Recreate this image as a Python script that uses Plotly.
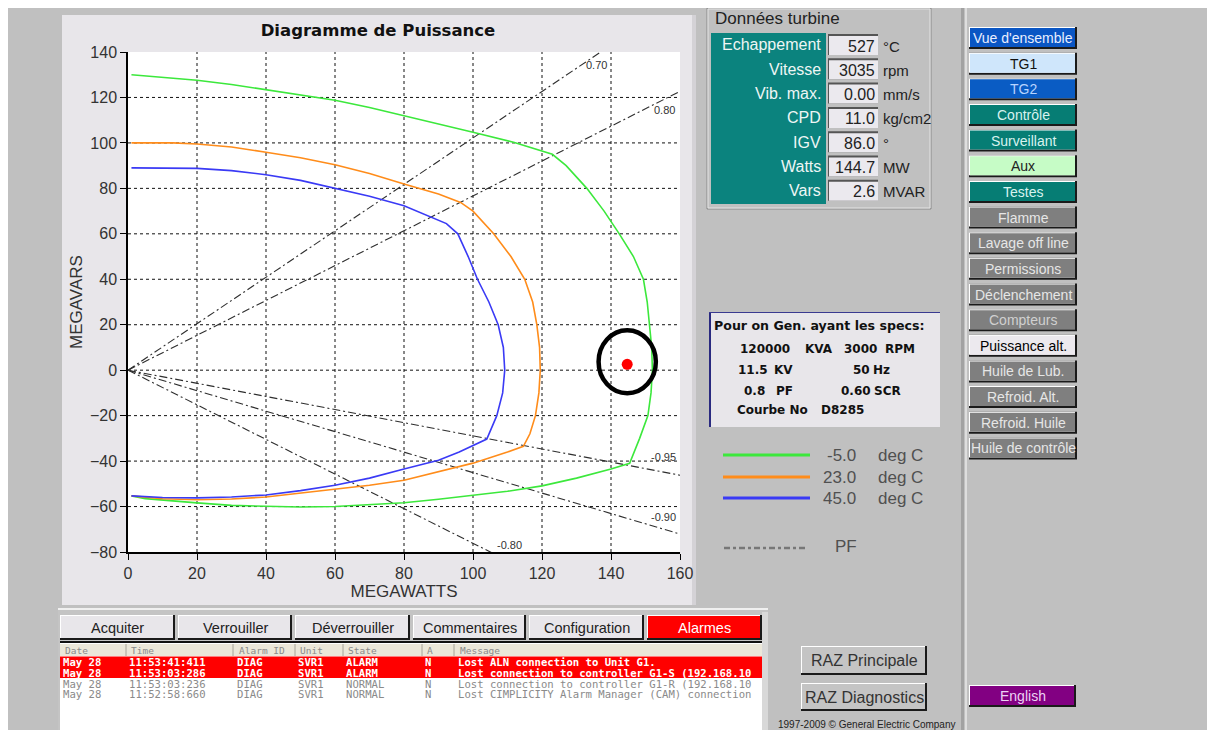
import plotly.graph_objects as go

# ---------------- DATA ----------------
# capability curves (MW, MVAR)
temps = ["-5.0", "23.0", "45.0"]
curve_colors = ["#3ce83c", "#ff8c1a", "#3a3af5"]

green_mw = [1, 10, 20, 30, 40, 50, 60, 70, 80, 90, 100, 112, 123, 127, 133, 138, 142.4, 146.5, 149.4, 150.5,
            151.2, 151.8, 152, 151.6, 150.7, 148.3, 145.4, 140, 130, 120, 110, 100, 90, 80, 70, 60, 50, 40, 30, 20, 10, 5, 1]
green_mvar = [130, 129, 127.6, 125.7, 123.5, 121.3, 118.8, 115.6, 112, 108.5, 104.7, 100.2, 95, 90, 80, 70, 60, 50, 40, 30,
              20, 10, 0, -10, -20, -30, -41, -43.5, -47.5, -50.9, -53.3, -55.2, -56.8, -58.3, -59.3, -60, -60.2, -60, -59.5, -58.4, -57.3, -56.5, -55.3]

orange_mw = [1, 13, 20, 30, 40, 50, 60, 70, 80, 90, 96.4, 100, 106, 111, 115, 117.3, 118.5, 119.3, 119.5, 119.1, 118.1, 116.5,
             114.6, 110, 100, 90, 80, 70, 60, 50, 40, 30, 20, 10, 5, 1]
orange_mvar = [100, 100, 99.5, 98.2, 95.9, 93.5, 90.4, 86.5, 81.9, 77.5, 73.8, 70, 60, 50, 40, 30, 20, 10, 0, -10, -20, -28,
               -33.5, -36, -40.9, -44.6, -48.4, -50.6, -52.4, -54.3, -55.8, -56.7, -57, -56.6, -56, -55.3]

blue_mw = [1, 20, 30, 40, 50, 60, 70, 80, 87.7, 92.3, 95.6, 98.6, 101.3, 104.6, 107.3, 108.8, 109.2, 108.6, 106.9, 104,
           96, 90, 80, 70, 60, 50, 40, 30, 20, 10, 1]
blue_mvar = [89, 88.8, 87.8, 86, 83.5, 80, 76.5, 72.4, 67.6, 64.5, 60, 50, 40, 30, 20, 10, 0, -10, -20, -30.3,
             -36, -39.6, -43.5, -47.5, -50.6, -53, -54.9, -55.8, -56.2, -56, -55.3]

# power-factor lines: from the origin to the end point
pf_labels = ["0.70", "0.80", "-0.95", "-0.90", "-0.80"]
pf_end_mw = [137, 163, 161, 162, 107]
pf_end_mvar = [140, 125, -46.5, -73, -81.5]
pf_label_mw = [135.7, 155.6, 155.1, 155.1, 110.7]
pf_label_mvar = [134.2, 114.4, -38.3, -64.7, -77]

x_ticks = [0, 20, 40, 60, 80, 100, 120, 140, 160]
y_ticks = [140, 120, 100, 80, 60, 40, 20, 0, -20, -40, -60, -80]

# turbine data panel
turb_labels = ["Echappement", "Vitesse", "Vib. max.", "CPD", "IGV", "Watts", "Vars"]
turb_values = ["527", "3035", "0.00", "11.0", "86.0", "144.7", "2.6"]
turb_units = ["°C", "rpm", "mm/s", "kg/cm2", "°", "MW", "MVAR"]

op_mw = float(turb_values[5])
op_mvar = float(turb_values[6])

# navigation buttons
nav_labels = ["Vue d'ensemble", "TG1", "TG2", "Contrôle", "Surveillant", "Aux", "Testes", "Flamme",
              "Lavage off line", "Permissions", "Déclenchement", "Compteurs", "Puissance alt.",
              "Huile de Lub.", "Refroid. Alt.", "Refroid. Huile", "Huile de contrôle"]
nav_fill = ["#0a56c4", "#cfe6fb", "#0a5cc4", "#067d74", "#067d74", "#c6fcc6", "#067d74", "#7f7f7f",
            "#7f7f7f", "#7f7f7f", "#7f7f7f", "#7f7f7f", "#ece9ee", "#7f7f7f", "#7f7f7f", "#7f7f7f", "#7f7f7f"]
nav_font = ["#e8eeff", "#111111", "#b8d4ff", "#d8f2ef", "#d8f2ef", "#222222", "#d8f2ef", "#e6e6e6",
            "#e6e6e6", "#e6e6e6", "#e6e6e6", "#d0d0d0", "#000000", "#e6e6e6", "#e6e6e6", "#e6e6e6", "#e6e6e6"]

tab_labels = ["Acquiter", "Verrouiller", "Déverrouiller", "Commentaires", "Configuration", "Alarmes"]

alarm_cols = ["Date", "Time", "Alarm ID", "Unit", "State", "A", "Message"]
alarm_rows = [
    ["May 28", "11:53:41:411", "DIAG", "SVR1", "ALARM", "N", "Lost ALN connection to Unit G1."],
    ["May 28", "11:53:03:286", "DIAG", "SVR1", "ALARM", "N", "Lost connection to controller G1-S (192.168.10"],
    ["May 28", "11:53:03:236", "DIAG", "SVR1", "NORMAL", "N", "Lost connection to controller G1-R (192.168.10"],
    ["May 28", "11:52:58:660", "DIAG", "SVR1", "NORMAL", "N", "Lost CIMPLICITY Alarm Manager (CAM) connection"],
]

spec_title = "Pour on Gen. ayant les specs:"
spec_lines = [["120000", "KVA", "3000", "RPM"], ["11.5", "KV", "50", "Hz"], ["0.8", "PF", "0.60", "SCR"], ["Courbe No", "D8285"]]

# ---------------- HELPERS ----------------
W, H = 1215, 730
OFF = 8  # page body margin: the figure starts 8px from the top-left of the window
PX0, PX1, PY0, PY1 = 128, 680, 52, 552


def px(x):
    return (x - OFF) / W


def py(y):
    return 1 - (y - OFF) / H


shapes = []
annos = []


def rect(x0, y0, x1, y1, fill, lc=None, lw=0, layer="below"):
    shapes.append(dict(type="rect", xref="paper", yref="paper", x0=px(x0), x1=px(x1), y0=py(y1), y1=py(y0),
                       fillcolor=fill, line=dict(width=lw, color=lc or fill), layer=layer))


def hline(x0, x1, y, color, w=1, dash="solid"):
    shapes.append(dict(type="line", xref="paper", yref="paper", x0=px(x0), x1=px(x1), y0=py(y), y1=py(y),
                       line=dict(color=color, width=w, dash=dash), layer="below"))


def vline(x, y0, y1, color, w=1):
    shapes.append(dict(type="line", xref="paper", yref="paper", x0=px(x), x1=px(x), y0=py(y0), y1=py(y1),
                       line=dict(color=color, width=w), layer="below"))


def text(x, y, s, size=14, color="#000", xanchor="center", family="Liberation Sans", bold=False):
    annos.append(dict(x=px(x), y=py(y), xref="paper", yref="paper", text=("<b>%s</b>" % s) if bold else s,
                      showarrow=False, xanchor=xanchor, yanchor="middle", borderpad=0,
                      font=dict(size=size, color=color, family=family)))


def button(x0, y0, x1, y1, fill, label, fcolor, size=14, light="#ffffff", dark="#1a1a1a"):
    rect(x0, y0, x1 + 2, y1 + 2, dark)
    rect(x0, y0, x1, y1, light)
    rect(x0 + 1, y0 + 1, x1, y1, fill)
    text((x0 + x1) / 2 + 1, (y0 + y1) / 2 + 1, label, size=size, color=fcolor)


# ---------------- BACKGROUND PANELS ----------------
rect(8, 8, W + 8, H + 8, "#c0c0c0")
# chart panel
rect(62, 15, 692, 605, "#e8e6ea")
rect(692, 15, 696, 605, "#d4d2d6")
# white plotting area
rect(PX0, PY0, PX1, PY1, "#ffffff")
# vertical separator
rect(961, 8, 964, H + 8, "#a2a2a2")
rect(965, 8, 967, H + 8, "#dedede")

# dotted grid (inner tick values only, as in the picture)
for xv in x_ticks[1:-1]:
    shapes.append(dict(type="line", xref="x", yref="y domain", x0=xv, x1=xv, y0=0, y1=1,
                       line=dict(color="#111", width=1, dash="3px,3px"), layer="below"))
for yv in y_ticks[1:-1]:
    shapes.append(dict(type="line", xref="x domain", yref="y", x0=0, x1=1, y0=yv, y1=yv,
                       line=dict(color="#111", width=1, dash="3px,3px"), layer="below"))

# ---------------- TURBINE PANEL ----------------
rect(707, 8, 931, 209, "rgba(0,0,0,0)", "#8a8a8a", 1)
rect(708, 9, 930, 208, "rgba(0,0,0,0)", "#e4e4e4", 1)
text(714, 19, "Données turbine", size=17, color="#222", xanchor="left")
rect(711, 33, 826, 204, "#0b837e")
for i, (lab, val, unit) in enumerate(zip(turb_labels, turb_values, turb_units)):
    cy = 45 + 24.3 * i
    text(822, cy, lab, size=16, color="#eef6f5", xanchor="right")
    rect(828, cy - 11, 878, cy + 10, "#555555")
    rect(829, cy - 9, 878, cy + 10, "#ebe9ee")
    text(876, cy + 1, val, size=16, color="#222", xanchor="right")
    text(882, cy + 1, unit, size=15, color="#222", xanchor="left")

# ---------------- SPEC BOX ----------------
rect(709, 312, 940, 427, "#e8e6ea")
rect(709, 312, 711, 427, "#2a2a80")
hline(709, 940, 312.5, "#3a3a90", 1)
text(713, 325, spec_title, size=12.6, color="#111", xanchor="left", family="DejaVu Sans", bold=True)
spec_x = [[739, 804, 843, 884], [737, 773, 852, 872], [743, 775, 840, 873], [736, 820]]
spec_y = [349, 370, 391, 410]
for words, xs, yy in zip(spec_lines, spec_x, spec_y):
    for wd, xx in zip(words, xs):
        text(xx, yy, wd, size=12, color="#111", xanchor="left", family="DejaVu Sans", bold=True)

# ---------------- CUSTOM LEGEND ----------------
leg_y = [455, 477, 498]
for t, c, yy in zip(temps, curve_colors, leg_y):
    hline(723, 810, yy, c, 3)
    text(857, yy, t, size=17, color="#505050", xanchor="right")
    text(877, yy, "deg C", size=17, color="#505050", xanchor="left")
hline(724, 808, 548, "#777777", 2.5, "6px,3px,3px,3px")
text(834, 546, "PF", size=17, color="#505050", xanchor="left")

# ---------------- NAV BUTTONS ----------------
for i, (lab, f, fc) in enumerate(zip(nav_labels, nav_fill, nav_font)):
    y0 = 27 + 25.65 * i
    button(969, y0, 1075, y0 + 20, f, lab, fc, size=14)
button(969, 685, 1074, 705, "#820082", "English", "#ecd4f4", size=14)

# ---------------- RAZ BUTTONS ----------------
button(801, 646, 925, 673, "#c4c4c4", "RAZ Principale", "#333", size=16)
button(801, 683, 925, 709, "#c4c4c4", "RAZ Diagnostics", "#333", size=16)
text(866, 724, "1997-2009 © General Electric Company", size=10, color="#222")

# ---------------- ALARM PANEL ----------------
rect(58, 608, 768, H + 8, "#c4c4c4")
hline(58, 768, 609, "#f0f0f0", 2)
rect(762, 612, 768, H + 8, "#d8d8d8")
tab_x = [(60, 173), (178, 290), (295, 408), (413, 524), (529, 642), (647, 760)]
for lab, (a, b) in zip(tab_labels, tab_x):
    if lab == "Alarmes":
        button(a, 615, b, 638, "#ff0000", lab, "#ffffff", size=14.5)
    else:
        button(a, 615, b, 638, "#e8e6ea", lab, "#222", size=14.5)
rect(60, 641, 762, H + 8, "#ffffff")
hline(60, 762, 642, "#111111", 2)
rect(60, 644, 762, 656, "#ebe7d9")
col_x = [62, 128, 236, 297, 345, 424, 457]
sep_x = [126, 233, 295, 343, 422, 454]
for sx in sep_x:
    vline(sx, 644, 656, "#a8a49a")
for cname, cx in zip(alarm_cols, col_x):
    text(cx + 2, 650, cname, size=9.5, color="#8a8a8a", xanchor="left", family="DejaVu Sans Mono")
rect(60, 656.5, 762, 678, "#ff0000")
row_y = [662, 672.5, 683.5, 694]
for r, (row, ry) in enumerate(zip(alarm_rows, row_y)):
    red = row[4] == "ALARM"
    for val, cx in zip(row, col_x):
        text(cx, ry, val, size=10.6, color="#ffffff" if red else "#8a8a8a", xanchor="left",
             family="DejaVu Sans Mono", bold=red)

# ---------------- TRACES ----------------
fig = go.Figure()
for i, (lab, emw, emv) in enumerate(zip(pf_labels, pf_end_mw, pf_end_mvar)):
    fig.add_trace(go.Scatter(x=[0, emw], y=[0, emv], mode="lines", name="PF " + lab,
                             line=dict(color="#2e2e2e", width=1.1, dash="8px,3px,2px,3px"),
                             showlegend=False, hoverinfo="skip"))
    annos.append(dict(x=pf_label_mw[i], y=pf_label_mvar[i], xref="x", yref="y", text=lab, showarrow=False,
                      font=dict(size=11, color="#333", family="Liberation Sans Narrow, Liberation Sans"),
                      xanchor="center", yanchor="middle"))

for t, c, xs, ys in zip(temps, curve_colors, [green_mw, orange_mw, blue_mw], [green_mvar, orange_mvar, blue_mvar]):
    fig.add_trace(go.Scatter(x=xs, y=ys, mode="lines", name=t + " deg C", line=dict(color=c, width=1.6),
                             showlegend=False))

fig.add_trace(go.Scatter(x=[op_mw], y=[op_mvar], mode="markers", name="Point",
                         marker=dict(color="#ff0000", size=11), showlegend=False))

# ring around operating point
ring_rx, ring_ry = 8.3, 13.9
shapes.append(dict(type="circle", xref="x", yref="y", x0=op_mw - ring_rx, x1=op_mw + ring_rx,
                   y0=op_mvar + 1.1 - ring_ry, y1=op_mvar + 1.1 + ring_ry,
                   line=dict(color="#000", width=4.5), layer="above"))

axis_font = dict(size=16, color="#333", family="Liberation Sans")
fig.update_layout(
    width=W, height=H, autosize=False,
    margin=dict(l=0, r=0, t=0, b=0, pad=0),
    paper_bgcolor="#ffffff", plot_bgcolor="#ffffff",
    showlegend=False,
    title=dict(text="<b>Diagramme de Puissance</b>", x=px(378), y=py(30), xanchor="center", yanchor="middle",
               xref="paper", yref="paper", font=dict(size=16.5, color="#111", family="DejaVu Sans")),
    xaxis=dict(domain=[px(PX0), px(PX1)], range=[0, 160], tickvals=x_ticks, showline=True, linecolor="#000",
               linewidth=1.5, ticks="outside", ticklen=6, tickcolor="#000", tickfont=axis_font,
               showgrid=False, zeroline=False, automargin=False, fixedrange=True,
               title=dict(text="MEGAWATTS", font=dict(size=17, color="#333", family="Liberation Sans"), standoff=4)),
    yaxis=dict(domain=[py(PY1), py(PY0)], range=[-80, 140], tickvals=y_ticks, showline=True, linecolor="#000",
               linewidth=1.5, ticks="outside", ticklen=6, tickcolor="#000", tickfont=axis_font,
               showgrid=False, zeroline=False, automargin=False, fixedrange=True,
               title=dict(text="MEGAVARS", font=dict(size=17, color="#333", family="Liberation Sans"), standoff=3)),
    shapes=shapes,
    annotations=annos,
)

fig.write_html("out.html")
